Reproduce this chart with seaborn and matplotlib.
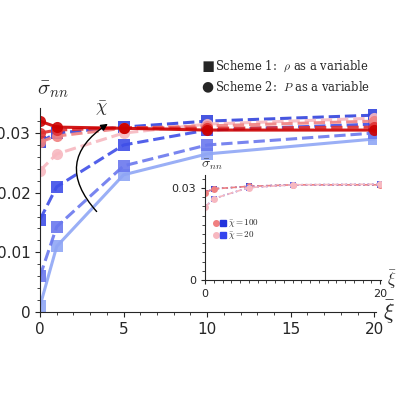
import matplotlib
matplotlib.use("Agg")
import matplotlib.pyplot as plt
import seaborn as sns
import pandas as pd
import numpy as np

sns.set_style("ticks")
plt.rcParams['font.family'] = ['DejaVu Sans']
plt.rcParams['mathtext.fontset'] = 'cm'

xi = [0, 1, 5, 10, 20]
# Scheme 1 (rho as variable), blue squares, increasing chi
s1_a = [0.001, 0.011, 0.023, 0.0265, 0.029]
s1_b = [0.006, 0.0143, 0.0245, 0.028, 0.030]
s1_c = [0.0155, 0.021, 0.028, 0.0305, 0.0315]
s1_d = [0.0285, 0.030, 0.031, 0.032, 0.033]
# Scheme 2 (P as variable), red circles
s2_a = [0.0237, 0.0265, 0.030, 0.0315, 0.0325]
s2_b = [0.0285, 0.0295, 0.0308, 0.0312, 0.032]
s2_c = [0.030, 0.0305, 0.0309, 0.0308, 0.031]
s2_d = [0.032, 0.031, 0.0308, 0.0305, 0.0305]
# inset
in_xi = [0, 1, 5, 10, 20]
in_100 = [0.0285, 0.0297, 0.0305, 0.031, 0.031]
in_20 = [0.0237, 0.0265, 0.0301, 0.031, 0.0312]

fig = plt.figure(figsize=(4, 4), dpi=100)
ax = fig.add_axes([0.1, 0.22, 0.84, 0.51])

blue_series = [(s1_a, '#8fa6f5', '-'), (s1_b, '#6a78ee', '--'), (s1_c, '#3f4fe8', '--'), (s1_d, '#3344dd', '--')]
red_series = [(s2_a, '#f7b8c0', '--'), (s2_b, '#f08080', '--'), (s2_c, '#e03030', '--'), (s2_d, '#cc0000', '-')]

for vals, col, ls in blue_series:
    sns.lineplot(x=xi, y=vals, ax=ax, color=col, linestyle=ls, lw=2.2,
                 marker='s', markersize=8, markeredgewidth=0, alpha=0.9)
for vals, col, ls in red_series:
    sns.lineplot(x=xi, y=vals, ax=ax, color=col, linestyle=ls, lw=2.2,
                 marker='o', markersize=8, markeredgewidth=0, alpha=0.9)

ax.set_xlim(0, 20.1)
ax.set_ylim(0, 0.0342)
ax.set_xticks([0, 5, 10, 15, 20])
ax.set_xticks(np.arange(0, 20.1, 1), minor=True)
ax.set_yticks([0, 0.01, 0.02, 0.03])
ax.set_yticklabels(['0', '0.01', '0.02', '0.03'])
ax.set_yticks(np.arange(0, 0.034, 0.002), minor=True)
ax.tick_params(labelsize=11)
sns.despine(ax=ax)
ax.text(-0.01, 1.04, r'$\bar{\sigma}_{nn}$', transform=ax.transAxes, fontsize=15, ha='left', va='bottom')
ax.text(1.04, 0.0, r'$\bar{\xi}$', transform=ax.transAxes, fontsize=16, ha='center', va='center')
ax.annotate('', xy=(4.2, 0.0318), xytext=(3.5, 0.0165),
            arrowprops=dict(arrowstyle='-|>', color='black', lw=1, connectionstyle='arc3,rad=-0.6'))
ax.text(3.3, 0.0335, r'$\bar{\chi}$', fontsize=13)

fig.text(0.505, 0.833, r'$\blacksquare$', fontsize=9, va='center')
fig.text(0.538, 0.833, r'Scheme 1:  $\rho$ as a variable', fontsize=8.3, va='center', family='serif')
fig.text(0.503, 0.783, '\u25CF', fontsize=10, va='center')
fig.text(0.538, 0.783, r'Scheme 2:  $P$ as a variable', fontsize=8.3, va='center', family='serif')

ins = fig.add_axes([0.5125, 0.3, 0.44, 0.2625])
sns.lineplot(x=in_xi, y=in_100, ax=ins, color='#3344dd', linestyle=':', lw=1.2, marker='s', markersize=4, markeredgewidth=0)
sns.lineplot(x=in_xi, y=in_100, ax=ins, color='#f08080', linestyle='--', lw=1.2, marker='o', markersize=5, markeredgewidth=0)
sns.lineplot(x=in_xi, y=in_20, ax=ins, color='#5566ee', linestyle=':', lw=1.2, marker='s', markersize=4, markeredgewidth=0)
sns.lineplot(x=in_xi, y=in_20, ax=ins, color='#f7b8c0', linestyle='--', lw=1.2, marker='o', markersize=5, markeredgewidth=0)
ins.set_xlim(0, 20.1)
ins.set_ylim(0, 0.0342)
ins.set_xticks([0, 20])
ins.set_xticks(np.arange(0, 20.1, 1), minor=True)
ins.set_yticks([0, 0.03])
ins.set_yticklabels(['0', '0.03'])
ins.set_yticks(np.arange(0, 0.034, 0.003), minor=True)
ins.tick_params(labelsize=8, length=3)
ins.tick_params(which='minor', length=2)
ins.patch.set_alpha(0)
sns.despine(ax=ins)
ins.text(-0.02, 1.03, r'$\bar{\sigma}_{nn}$', transform=ins.transAxes, fontsize=10, ha='left', va='bottom')
ins.text(1.06, 0.0, r'$\bar{\xi}$', transform=ins.transAxes, fontsize=12, ha='center', va='center')
ins.plot([1.2], [0.0185], 'o', color='#f08080', ms=4)
ins.plot([2.0], [0.0185], 's', color='#2233dd', ms=4)
ins.text(2.6, 0.0185, r'$\bar{\chi}=100$', fontsize=6.5, va='center')
ins.plot([1.2], [0.0148], 'o', color='#f7b8c0', ms=4)
ins.plot([2.0], [0.0148], 's', color='#3344ee', ms=4)
ins.text(2.6, 0.0148, r'$\bar{\chi}=20$', fontsize=6.5, va='center')

fig.savefig('out.png', dpi=100)
